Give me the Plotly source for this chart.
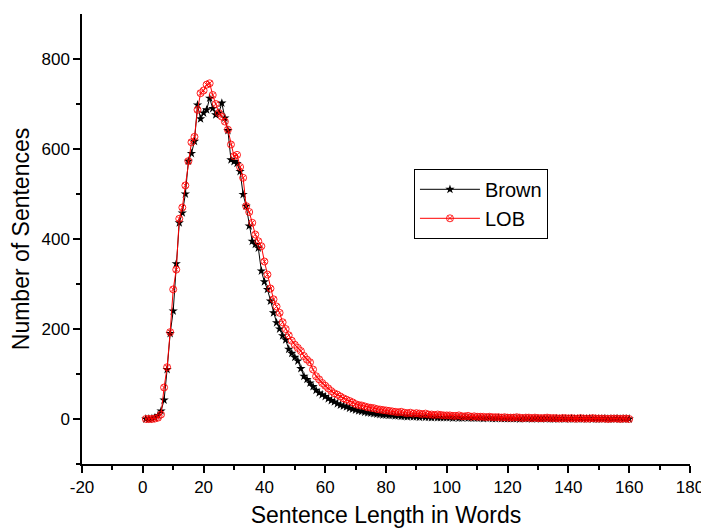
import plotly.graph_objects as go

lengths = list(range(1, 161))

brown = [
    0, 0, 1, 3, 8, 18, 42, 110, 190, 240,
    345, 436, 458, 500, 573, 590, 617, 698, 667, 680,
    687, 713, 690, 676, 680, 702, 669, 641, 576, 572,
    568, 550, 499, 473, 429, 395, 388, 380, 329, 305,
    288, 262, 236, 214, 200, 185, 176, 155, 146, 137,
    129, 112, 95, 88, 80, 72, 64, 58, 54, 50,
    45, 41, 38, 34, 31, 29, 27, 24, 22, 20,
    18, 17, 15, 14, 13, 12, 11, 10, 9, 9,
    8, 8, 7, 7, 6, 6, 5, 6, 5, 5,
    4, 5, 4, 4, 3, 4, 3, 3, 3, 3,
    3, 2, 3, 2, 2, 3, 2, 2, 2, 2,
    2, 1, 2, 2, 1, 1, 2, 1, 1, 1,
    1, 1, 1, 0, 1, 1, 1, 0, 1, 1,
    0, 1, 1, 0, 0, 1, 0, 1, 0, 0,
    1, 0, 0, 1, 0, 0, 1, 0, 0, 0,
    0, 1, 0, 0, 0, 1, 0, 0, 0, 0,
]

lob = [
    0, 0, 0, 1, 3, 10, 70, 115, 193, 288,
    332, 445, 470, 519, 573, 615, 627, 687, 724, 730,
    743, 746, 720, 700, 680, 672, 661, 643, 610, 584,
    587, 560, 536, 473, 460, 436, 410, 395, 384, 350,
    321, 290, 266, 250, 236, 215, 200, 186, 174, 165,
    158, 151, 140, 132, 126, 110, 95, 88, 80, 74,
    68, 62, 57, 54, 50, 46, 43, 40, 37, 33,
    31, 30, 28, 26, 25, 24, 22, 21, 20, 19,
    18, 17, 16, 15, 16, 14, 13, 14, 12, 13,
    12, 11, 12, 10, 10, 9, 10, 9, 8, 8,
    8, 7, 7, 8, 6, 6, 7, 5, 6, 5,
    5, 5, 4, 5, 4, 4, 4, 3, 4, 3,
    3, 3, 4, 3, 2, 3, 3, 2, 3, 2,
    2, 2, 3, 2, 2, 2, 1, 2, 2, 1,
    2, 1, 1, 2, 1, 1, 1, 2, 1, 1,
    1, 1, 0, 1, 1, 1, 0, 1, 1, 0,
]

x_ticks = list(range(-20, 181, 20))
y_ticks = [0, 200, 400, 600, 800]

FONT = "Arial, Liberation Sans, sans-serif"

fig = go.Figure()
fig.add_trace(go.Scatter(
    x=lengths, y=brown, name="Brown", mode="lines+markers",
    line=dict(color="black", width=1),
    marker=dict(symbol="star", size=7, color="black"),
))
fig.add_trace(go.Scatter(
    x=lengths, y=lob, name="LOB", mode="lines+markers",
    line=dict(color="red", width=1),
    marker=dict(symbol="circle-x-open", size=7, color="rgba(255,0,0,0.85)", line=dict(width=1)),
))

axis_common = dict(
    showgrid=False, zeroline=False, showline=True, linecolor="black", linewidth=1.5,
    ticks="outside", ticklen=7, tickwidth=1.5, tickcolor="black",
    tickfont=dict(family=FONT, size=17, color="black"),
    mirror=False, automargin=False,
)

fig.update_xaxes(
    range=[-20, 180], tickvals=x_ticks, ticktext=[str(v) for v in x_ticks],
    minor=dict(dtick=10, ticks="outside", ticklen=4, tickwidth=1.5, tickcolor="black"),
    title=dict(text="Sentence Length in Words", font=dict(family=FONT, size=23, color="black"), standoff=11),
    **axis_common,
)
fig.update_yaxes(
    range=[-100, 900], tickvals=y_ticks, ticktext=[str(v) for v in y_ticks],
    minor=dict(tickvals=[-100, 100, 300, 500, 700], ticks="outside", ticklen=4, tickwidth=1.5, tickcolor="black"),
    title=dict(text="Number of Sentences", font=dict(family=FONT, size=23, color="black"), standoff=10),
    **axis_common,
)

fig.update_layout(
    width=709, height=528,
    margin=dict(l=74, r=27, t=6, b=72),
    paper_bgcolor="white", plot_bgcolor="white",
    showlegend=True,
    legend=dict(
        x=0.546, y=0.656, xanchor="left", yanchor="top",
        bordercolor="black", borderwidth=1, bgcolor="white",
        font=dict(family=FONT, size=20, color="black"),
        tracegroupgap=0, itemwidth=60,
    ),
)

fig.write_html("out.html")
